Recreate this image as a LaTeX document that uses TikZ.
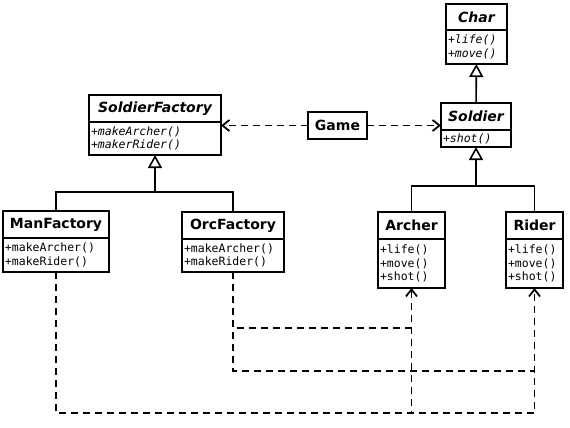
\documentclass[tikz,border=0pt]{standalone}
\usepackage{fontspec}
\setmainfont{DejaVu Sans}
\newfontfamily\umlmono{DejaVu Sans Mono}
\newcommand\umlhead{\bfseries\fontsize{14pt}{16pt}\selectfont}
\newcommand\umlops{\umlmono\fontsize{11.5pt}{13.3pt}\selectfont}
\usetikzlibrary{arrows.meta,positioning}

\tikzset{
  head/.style={draw, line width=1.8pt, inner sep=0pt, outer sep=0pt, font=\umlhead},
  ops/.style={draw, line width=1.8pt, inner xsep=2pt, inner ysep=0pt, outer sep=0pt,
    align=left, below=0pt of #1, font=\umlops},
  inherit/.style={line width=1.6pt, -{Triangle[open, length=13pt, width=14pt]}},
  link/.style={line width=1.6pt},
  dep/.style={line width=1.6pt, dash pattern=on 7pt off 5pt},
  uses/.style={dep, -{Straight Barb[length=7pt, width=11pt, line width=1.8pt]}}
}

\begin{document}
\begin{tikzpicture}[x=1pt, y=-1pt]
    \useasboundingbox (0,0) rectangle (570,428);

    % abstract classes
    \node[head, minimum width=61pt, minimum height=26pt, anchor=north] (CharHead) at (476.5,4) {\itshape Char};
    \node[ops=CharHead, text width=57pt, minimum height=34pt] (CharOps) {\itshape +life()\\\itshape +move()};
    \node[head, minimum width=70pt, minimum height=27pt, anchor=north] (SoldierHead) at (476,103) {\itshape Soldier};
    \node[ops=SoldierHead, text width=66pt, minimum height=17pt] (SoldierOps) {\itshape +shot()};
    \node[head, minimum width=132pt, minimum height=27pt, anchor=north] (FactoryHead) at (155,95) {\itshape SoldierFactory};
    \node[ops=FactoryHead, text width=128pt, minimum height=33pt] (FactoryOps) {\itshape +makeArcher()\\\itshape +makerRider()};
    \node[head, minimum width=59pt, minimum height=27pt] (Game) at (337.5,125.5) {Game};

    % concrete classes
    \node[head, minimum width=106pt, minimum height=27pt, anchor=north] (ManHead) at (56,211) {ManFactory};
    \node[ops=ManHead, text width=102pt, minimum height=34pt] (ManOps) {+makeArcher()\\+makeRider()};
    \node[head, minimum width=102pt, minimum height=27pt, anchor=north] (OrcHead) at (233,212) {OrcFactory};
    \node[ops=OrcHead, text width=98pt, minimum height=33pt] (OrcOps) {+makeArcher()\\+makeRider()};
    \node[head, minimum width=67pt, minimum height=27pt, anchor=north] (ArcherHead) at (411.5,212) {Archer};
    \node[ops=ArcherHead, text width=63pt, minimum height=49pt] (ArcherOps) {+life()\\+move()\\+shot()};
    \node[head, minimum width=57pt, minimum height=27pt, anchor=north] (RiderHead) at (534.5,212) {Rider};
    \node[ops=RiderHead, text width=53pt, minimum height=49pt] (RiderOps) {+life()\\+move()\\+shot()};

    % generalisation
    \draw[inherit] (SoldierHead) -- (CharOps);
    \coordinate (fbar) at (155,192);
    \coordinate (sbar) at (476,186);
    \draw[link] (ManHead.north) |- (fbar) -| (OrcHead.north);
    \draw[inherit] (fbar) -- (FactoryOps);
    \draw[link] (ArcherHead.north) |- (sbar) -| (RiderHead.north);
    \draw[inherit] (sbar) -- (SoldierOps);

    % dependencies
    \draw[uses] (Game.west) -- (Game.west -| FactoryOps.east);
    \draw[uses] (Game.east) -- (Game.east -| SoldierOps.west);
    \draw[dep] (OrcOps.south) |- (ArcherOps.south |- 0,328);
    \draw[dep] (OrcOps.south) |- (RiderOps.south |- 0,371);
    \draw[uses] (ManOps.south) |- (ArcherOps.south |- 0,413) -- (ArcherOps.south);
    \draw[uses] (ManOps.south) |- (RiderOps.south |- 0,413) -- (RiderOps.south);
\end{tikzpicture}
\end{document}
